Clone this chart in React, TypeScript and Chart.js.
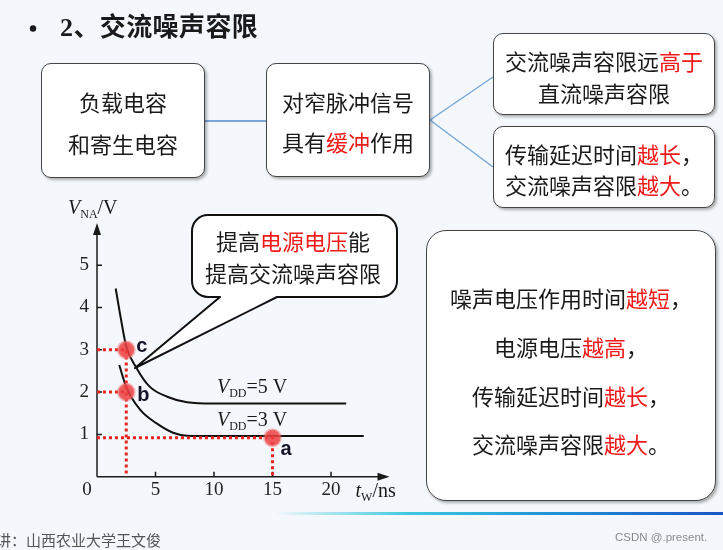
import React, { useEffect, useRef } from "react";
import { Chart, registerables } from "chart.js";

Chart.register(...registerables);

// ---------- data ----------
const xTicks = [5, 10, 15, 20];
const yTicks = [1, 2, 3, 4, 5];
const xMax = 25;
const yMax = 6;

const curve5X = [1.6, 2.0, 2.5, 3.4, 4.5, 6.0, 7.7, 10, 21.3];
const curve5Y = [4.45, 3.8, 3.08, 2.56, 2.13, 1.89, 1.76, 1.73, 1.73];
const curve3X = [1.9, 2.5, 3.7, 5.1, 6.5, 7.7, 10, 22.8];
const curve3Y = [2.64, 2.12, 1.58, 1.26, 1.04, 0.97, 0.96, 0.96];
const curveLabels = ["5 V", "3 V"];
const curveLabelX = [10.25, 10.25];

const pointNames = ["c", "b", "a"];
const pointX = [2.5, 2.5, 15];
const pointY = [3, 2, 0.92];
const pointDrop = [true, false, true];

type Seg = [string, boolean];

const titleText = "2、交流噪声容限";
const box1Lines: Seg[][] = [[["负载电容", false]], [["和寄生电容", false]]];
const box2Lines: Seg[][] = [
  [["对窄脉冲信号", false]],
  [["具有", false], ["缓冲", true], ["作用", false]],
];
const box3Lines: Seg[][] = [
  [["交流噪声容限远", false], ["高于", true]],
  [["直流噪声容限", false]],
];
const box4Lines: Seg[][] = [
  [["传输延迟时间", false], ["越长", true], ["，", false]],
  [["交流噪声容限", false], ["越大", true], ["。", false]],
];
const bubbleLines: Seg[][] = [
  [["提高", false], ["电源电压", true], ["能", false]],
  [["提高交流噪声容限", false]],
];
const bigLines: Seg[][] = [
  [["噪声电压作用时间", false], ["越短", true], ["，", false]],
  [["电源电压", false], ["越高", true], ["，", false]],
  [["传输延迟时间", false], ["越长", true], ["，", false]],
  [["交流噪声容限", false], ["越大", true], ["。", false]],
];
const footerLeft = "讲：山西农业大学王文俊";
const footerRight = "CSDN @.present.";

const SERIF = '"Liberation Serif", "Times New Roman", serif';
const CJK = '"Noto Sans CJK SC", "Noto Sans", sans-serif';
const RED = "#f01a1a";

const toPts = (xs: number[], ys: number[]) => xs.map((x, i) => ({ x, y: ys[i] }));

function drawSub(ctx: CanvasRenderingContext2D, x: number, y: number, main: string, sub: string, rest: string) {
  ctx.textAlign = "left";
  ctx.textBaseline = "alphabetic";
  ctx.font = `italic 20px ${SERIF}`;
  ctx.fillText(main, x, y);
  x += ctx.measureText(main).width;
  ctx.font = `12px ${SERIF}`;
  ctx.fillText(sub, x, y + 4);
  x += ctx.measureText(sub).width;
  ctx.font = `20px ${SERIF}`;
  ctx.fillText(rest, x, y);
}

const decor = {
  id: "decor",
  beforeDatasetsDraw(chart: any) {
    const { ctx, chartArea: a, scales } = chart;
    const xs = scales.x;
    const ys = scales.y;
    ctx.save();
    ctx.strokeStyle = "#1a1a1a";
    ctx.fillStyle = "#1a1a1a";
    ctx.lineWidth = 1.5;
    ctx.beginPath();
    ctx.moveTo(a.left, a.bottom);
    ctx.lineTo(a.right - 6, a.bottom);
    ctx.moveTo(a.left, a.bottom);
    ctx.lineTo(a.left, a.top + 6);
    xTicks.forEach((v) => {
      const px = xs.getPixelForValue(v);
      ctx.moveTo(px, a.bottom);
      ctx.lineTo(px, a.bottom - 5);
    });
    yTicks.forEach((v) => {
      const py = ys.getPixelForValue(v);
      ctx.moveTo(a.left, py);
      ctx.lineTo(a.left + 5, py);
    });
    ctx.stroke();
    ctx.beginPath();
    ctx.moveTo(a.right, a.bottom);
    ctx.lineTo(a.right - 12, a.bottom - 4);
    ctx.lineTo(a.right - 12, a.bottom + 4);
    ctx.closePath();
    ctx.fill();
    ctx.beginPath();
    ctx.moveTo(a.left, a.top);
    ctx.lineTo(a.left - 4, a.top + 12);
    ctx.lineTo(a.left + 4, a.top + 12);
    ctx.closePath();
    ctx.fill();
    ctx.restore();
  },
  afterDatasetsDraw(chart: any) {
    const { ctx, chartArea: a, scales } = chart;
    const xs = scales.x;
    const ys = scales.y;
    ctx.save();
    ctx.fillStyle = "#1a1a1a";
    drawSub(ctx, a.left - 29, a.top - 9, "V", "NA", "/V");
    drawSub(ctx, a.right - 34, a.bottom + 20, "t", "W", "/ns");
    ctx.font = `19px ${SERIF}`;
    ctx.textAlign = "center";
    ctx.fillText("0", a.left - 10, a.bottom + 18);
    const flats = [curve5Y[curve5Y.length - 1], curve3Y[curve3Y.length - 1]];
    curveLabels.forEach((t, i) => {
      const px = xs.getPixelForValue(curveLabelX[i]);
      const py = ys.getPixelForValue(flats[i]) - 10.5;
      drawSub(ctx, px, py, "V", "DD", "=" + t);
    });
    const offs = [
      [10, -3],
      [11, 3],
      [8, 12],
    ];
    ctx.font = `bold 20px "Liberation Sans", Arial, sans-serif`;
    ctx.textAlign = "left";
    ctx.textBaseline = "middle";
    ctx.fillStyle = "#15152a";
    pointNames.forEach((n, i) => {
      const px = xs.getPixelForValue(pointX[i]);
      const py = ys.getPixelForValue(pointY[i]);
      ctx.fillText(n, px + offs[i][0], py + offs[i][1]);
    });
    ctx.restore();
  },
};

function TextLine({ cx, cy, segs, size = 22 }: any) {
  return (
    <div
      style={{
        position: "absolute",
        left: cx - 200,
        width: 400,
        top: cy - size * 0.7,
        height: size * 1.4,
        lineHeight: `${size * 1.4}px`,
        textAlign: "center",
        fontSize: size,
        fontFamily: CJK,
        whiteSpace: "nowrap",
        color: "#1a1a1a",
      }}
    >
      {segs.map((s: Seg, i: number) => (
        <span key={i} style={{ color: s[1] ? RED : undefined }}>
          {s[0]}
        </span>
      ))}
    </div>
  );
}

function Box({ l, t, r, b, rad = 10 }: any) {
  return (
    <div
      style={{
        position: "absolute",
        left: l,
        top: t,
        width: r - l,
        height: b - t,
        boxSizing: "border-box",
        background: "#fff",
        border: "1.5px solid #444",
        borderRadius: rad,
        boxShadow: "2px 2px 3px rgba(0,0,0,0.3)",
      }}
    />
  );
}

export default function App() {
  const canvasRef = useRef<HTMLCanvasElement>(null);

  useEffect(() => {
    const guideSets: any[] = [];
    pointX.forEach((px, i) => {
      const d = [
        { x: 0, y: pointY[i] },
        { x: px, y: pointY[i] },
      ];
      if (pointDrop[i]) d.push({ x: px, y: 0 });
      guideSets.push({
        data: d,
        showLine: true,
        borderColor: "#e8251f",
        borderWidth: 3,
        borderDash: [3, 3],
        pointRadius: 0,
        fill: false,
      });
    });
    const chart = new Chart(canvasRef.current as HTMLCanvasElement, {
      type: "scatter",
      data: {
        datasets: [
          {
            label: "points",
            data: toPts(pointX, pointY),
            pointRadius: 8,
            pointBackgroundColor: "rgba(236,62,62,0.85)",
            pointBorderColor: "rgba(240,110,110,0.45)",
            pointBorderWidth: 3,
            showLine: false,
          },
          ...guideSets,
          {
            label: "VDD=5V",
            data: toPts(curve5X, curve5Y),
            showLine: true,
            borderColor: "#111",
            borderWidth: 2,
            pointRadius: 0,
            cubicInterpolationMode: "monotone",
          },
          {
            label: "VDD=3V",
            data: toPts(curve3X, curve3Y),
            showLine: true,
            borderColor: "#111",
            borderWidth: 2,
            pointRadius: 0,
            cubicInterpolationMode: "monotone",
          },
        ],
      },
      options: {
        animation: false,
        responsive: false,
        events: [],
        layout: { padding: { left: 57, right: 333.5, top: 222.9, bottom: 43.3 } },
        plugins: { legend: { display: false }, tooltip: { enabled: false } },
        scales: {
          x: {
            type: "linear",
            min: 0,
            max: xMax,
            grid: { display: false, drawTicks: false },
            border: { display: false },
            afterBuildTicks: (s: any) => {
              s.ticks = xTicks.map((v) => ({ value: v }));
            },
            afterFit: (s: any) => {
              s.height = 30;
            },
            ticks: { padding: 2, color: "#222", font: { family: SERIF, size: 19 } },
          },
          y: {
            type: "linear",
            min: 0,
            max: yMax,
            grid: { display: false, drawTicks: false },
            border: { display: false },
            afterBuildTicks: (s: any) => {
              s.ticks = yTicks.map((v) => ({ value: v }));
            },
            afterFit: (s: any) => {
              s.width = 40;
            },
            ticks: { padding: 8, color: "#222", font: { family: SERIF, size: 19 } },
          },
        },
      } as any,
      plugins: [decor as any],
    });
    return () => chart.destroy();
  }, []);

  const bubblePath =
    "M 208 215 H 381 A 16 16 0 0 1 397 231 V 281 A 16 16 0 0 1 381 297 H 277 L 135 368 L 220 297 H 208 A 16 16 0 0 1 192 281 V 231 A 16 16 0 0 1 208 215 Z";

  return (
    <div
      style={{
        position: "fixed",
        left: 0,
        top: 0,
        width: 723,
        height: 550,
        overflow: "hidden",
        background: "#f4f8fc",
        fontFamily: CJK,
      }}
    >
      <canvas ref={canvasRef} width={723} height={550} style={{ position: "absolute", left: 0, top: 0 }} />
      <svg width={723} height={550} style={{ position: "absolute", left: 0, top: 0, pointerEvents: "none" }}>
        <line x1={205} y1={121} x2={266} y2={121} stroke="#7aa7d8" strokeWidth={2} />
        <line x1={430} y1={120} x2={493} y2={77} stroke="#7aa7d8" strokeWidth={1.5} />
        <line x1={430} y1={120} x2={493} y2={167} stroke="#7aa7d8" strokeWidth={1.5} />
        <path d={bubblePath} fill="#fff" stroke="#111" strokeWidth={2} strokeLinejoin="round" />
        <circle cx={33} cy={28.5} r={3.2} fill="#1a1a1a" />
      </svg>

      <div
        style={{
          position: "absolute",
          left: 60,
          top: 28 - 18,
          height: 36,
          lineHeight: "36px",
          fontSize: 26,
          letterSpacing: 0.4,
          fontWeight: 700,
          fontFamily: `"Liberation Serif", "Noto Sans CJK SC", serif`,
          color: "#1a1a1a",
          whiteSpace: "nowrap",
        }}
      >
        {titleText}
      </div>

      <Box l={41} t={63} r={205} b={178} />
      <Box l={266} t={63} r={430} b={177} />
      <Box l={493} t={33} r={715} b={115} />
      <Box l={493} t={126} r={715} b={208} />
      <Box l={426} t={230} r={716} b={501} rad={20} />

      <TextLine cx={123} cy={101.7} segs={box1Lines[0]} />
      <TextLine cx={123} cy={143.3} segs={box1Lines[1]} />
      <TextLine cx={348} cy={101.7} segs={box2Lines[0]} />
      <TextLine cx={348} cy={141.7} segs={box2Lines[1]} />
      <TextLine cx={604} cy={60} segs={box3Lines[0]} />
      <TextLine cx={604} cy={92} segs={box3Lines[1]} />
      <TextLine cx={604} cy={153} segs={box4Lines[0]} />
      <TextLine cx={604} cy={184} segs={box4Lines[1]} />
      <TextLine cx={293} cy={240} segs={bubbleLines[0]} />
      <TextLine cx={293} cy={272} segs={bubbleLines[1]} />
      <TextLine cx={571} cy={297} segs={bigLines[0]} />
      <TextLine cx={571} cy={346.5} segs={bigLines[1]} />
      <TextLine cx={571} cy={395} segs={bigLines[2]} />
      <TextLine cx={571} cy={443} segs={bigLines[3]} />

      <div
        style={{
          position: "absolute",
          left: 275,
          top: 512,
          width: 448,
          height: 3,
          background: "linear-gradient(to right, rgba(160,230,240,0), #3cc8de 30%, #2196d8 60%, #1a55c6 100%)",
        }}
      />
      <div style={{ position: "absolute", left: -4, top: 530, fontSize: 15, color: "#555", whiteSpace: "nowrap", lineHeight: "20px" }}>
        {footerLeft}
      </div>
      <div
        style={{
          position: "absolute",
          left: 615,
          top: 529,
          fontSize: 11.5,
          color: "#8a8a8a",
          fontFamily: '"Liberation Sans", Arial, sans-serif',
          whiteSpace: "nowrap",
          lineHeight: "16px",
        }}
      >
        {footerRight}
      </div>
    </div>
  );
}
